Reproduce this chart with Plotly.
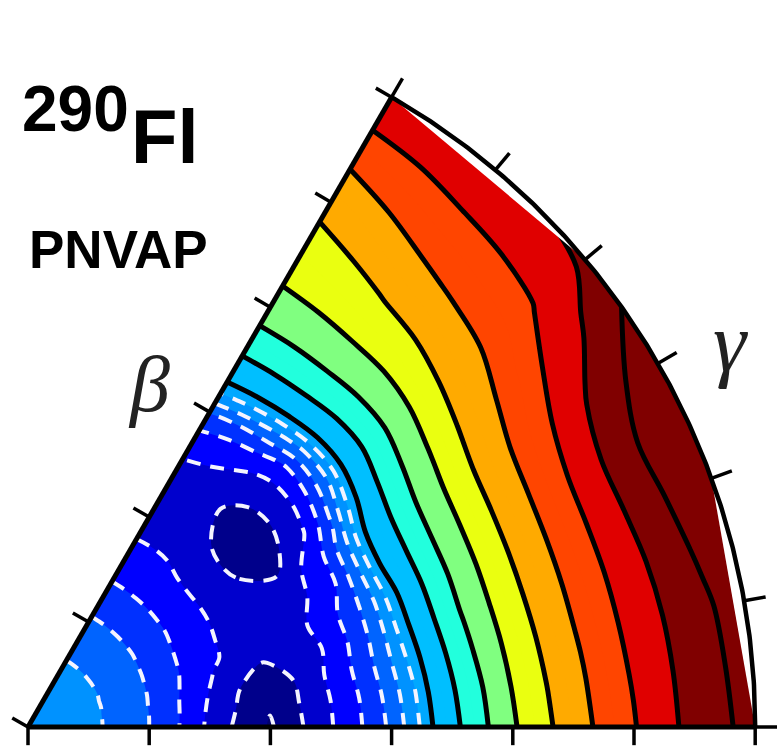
import numpy as np
import plotly.graph_objects as go

# Deformation mesh: beta (radial) and gamma in degrees (angular)
beta = [0.00, 0.04, 0.08, 0.12, 0.16, 0.20, 0.24, 0.28, 0.30, 0.32, 0.34,
        0.37, 0.40, 0.43, 0.46, 0.50, 0.54, 0.57, 0.60]
gamma = [0, 5, 10, 15, 20, 25, 30, 35, 40, 45, 50, 55, 60]

# PNVAP energies (MeV) on the mesh, one list per gamma value
E_g00 = [-0.75, -0.86, -1.12, -1.88, -2.86, -3.56, -2.74, -1.90, -1.38, -0.65, 0.25, 1.57, 2.88, 3.90, 4.82, 5.94, 7.09, 7.74, 8.40]
E_g05 = [-0.75, -0.86, -1.12, -1.87, -2.80, -3.45, -2.72, -1.86, -1.30, -0.55, 0.38, 1.71, 3.01, 4.03, 4.94, 6.06, 7.17, 7.83, 8.50]
E_g10 = [-0.75, -0.86, -1.12, -1.86, -2.69, -3.40, -2.68, -1.78, -1.19, -0.40, 0.52, 1.90, 3.14, 4.15, 5.05, 6.15, 7.24, 7.89, 8.60]
E_g15 = [-0.75, -0.86, -1.11, -1.83, -2.55, -3.03, -2.75, -1.81, -1.18, -0.25, 0.67, 2.04, 3.24, 4.24, 5.11, 6.21, 7.36, 8.11, 8.75]
E_g20 = [-0.75, -0.86, -1.11, -1.81, -2.42, -2.82, -2.60, -1.83, -1.19, -0.18, 0.73, 2.06, 3.27, 4.28, 5.14, 6.27, 7.55, 8.28, 8.85]
E_g25 = [-0.75, -0.86, -1.10, -1.79, -2.39, -2.82, -2.76, -2.00, -1.14, 0.00, 0.80, 2.09, 3.26, 4.27, 5.12, 6.25, 7.65, 8.36, 8.90]
E_g30 = [-0.75, -0.86, -1.10, -1.77, -2.35, -2.83, -2.92, -2.06, -1.24, -0.06, 0.74, 2.01, 3.17, 4.19, 5.01, 6.01, 7.25, 8.01, 8.60]
E_g35 = [-0.75, -0.86, -1.10, -1.74, -2.32, -2.88, -3.25, -2.46, -1.67, -0.56, 0.48, 1.74, 2.92, 3.93, 4.74, 5.60, 6.50, 7.26, 8.05]
E_g40 = [-0.75, -0.86, -1.10, -1.74, -2.31, -2.92, -3.34, -2.65, -1.98, -1.06, 0.17, 1.43, 2.63, 3.67, 4.44, 5.25, 5.92, 6.56, 7.20]
E_g45 = [-0.75, -0.86, -1.10, -1.74, -2.30, -2.87, -3.25, -2.62, -2.12, -1.12, 0.13, 1.42, 2.55, 3.44, 4.19, 5.09, 5.78, 6.34, 6.95]
E_g50 = [-0.75, -0.86, -1.10, -1.74, -2.30, -2.72, -2.90, -2.44, -1.85, -0.88, 0.29, 1.52, 2.58, 3.38, 4.04, 4.89, 5.67, 6.26, 6.85]
E_g55 = [-0.75, -0.86, -1.10, -1.74, -2.30, -2.70, -2.80, -2.24, -1.69, -0.61, 0.41, 1.56, 2.58, 3.29, 3.82, 4.60, 5.47, 6.13, 6.70]
E_g60 = [-0.75, -0.86, -1.10, -1.74, -2.30, -2.72, -2.75, -2.07, -1.45, -0.38, 0.48, 1.60, 2.57, 3.21, 3.64, 4.31, 5.20, 6.04, 6.60]
energy = [E_g00, E_g05, E_g10, E_g15, E_g20, E_g25, E_g30,
          E_g35, E_g40, E_g45, E_g50, E_g55, E_g60]

# Axis ticks
beta_ticks = [0.0, 0.1, 0.2, 0.3, 0.4, 0.5, 0.6]
gamma_ticks = [0, 10, 20, 30, 40, 50, 60]

# Contour levels
fill_start, fill_end, fill_step = -3.5, 8.0, 0.5
neg_start, neg_end, neg_step = -3.5, -0.5, 0.5
pos_start, pos_end, pos_step = 0.0, 8.0, 1.0

# Colour of each filled band, from below the lowest level upwards
band_colors = [
    "#00006e",  # < -3.5
    "#00008b", "#0000cd", "#0000ff", "#0030ff", "#0064ff", "#0092ff", "#00a8ff",
    "#00bfff", "#00bfff",   # 0..1
    "#22ffdd", "#22ffdd",   # 1..2
    "#80ff80", "#80ff80",   # 2..3
    "#eaff10", "#eaff10",   # 3..4
    "#ffaa00", "#ffaa00",   # 4..5
    "#ff4500", "#ff4500",   # 5..6
    "#e00000", "#e00000",   # 6..7
    "#800000", "#800000",   # 7..8
    "#800000",              # > 8
]
n = len(band_colors) - 1
colorscale = [[k / n, c] for k, c in enumerate(band_colors)]

B = np.array(beta)
G = np.radians(np.array(gamma, dtype=float))
X = np.outer(np.cos(G), B)
Y = np.outer(np.sin(G), B)

fig = go.Figure()

hidden_axis = dict(showgrid=False, showline=False, showticklabels="none",
                   startline=False, endline=False, minorgridcount=0,
                   gridwidth=0, linewidth=0)
fig.add_trace(go.Carpet(carpet="pes", a=beta, b=gamma, x=X.tolist(), y=Y.tolist(),
                        aaxis=hidden_axis, baxis=hidden_axis))

# Filled bands
fig.add_trace(go.Contourcarpet(
    carpet="pes", a=beta, b=gamma, z=energy, autocontour=False,
    contours=dict(start=fill_start, end=fill_end, size=fill_step,
                  coloring="fill", showlines=False),
    colorscale=colorscale, showscale=False,
    line=dict(width=0, smoothing=1.0)))

# Negative energies: white dashed contours
fig.add_trace(go.Contourcarpet(
    carpet="pes", a=beta, b=gamma, z=energy, autocontour=False,
    contours=dict(start=neg_start, end=neg_end, size=neg_step, coloring="none"),
    showscale=False,
    line=dict(color="#f4f4ff", width=4, dash="14px,10px", smoothing=1.0)))

# Positive energies: black solid contours
fig.add_trace(go.Contourcarpet(
    carpet="pes", a=beta, b=gamma, z=energy, autocontour=False,
    contours=dict(start=pos_start, end=pos_end, size=pos_step, coloring="none"),
    showscale=False,
    line=dict(color="black", width=5, smoothing=1.0)))

bmax = beta[-1]


def arc(g0, g1, r, num=80):
    t = np.radians(np.linspace(g0, g1, num))
    return r * np.cos(t), r * np.sin(t)


# White slivers between the mesh chords and the outer arc
for g0, g1 in [(40, 60), (0, 20)]:
    ax_, ay_ = arc(g0, g1, bmax + 0.002)
    cx = [bmax * np.cos(np.radians(g1)), bmax * np.cos(np.radians(g0))]
    cy = [bmax * np.sin(np.radians(g1)), bmax * np.sin(np.radians(g0))]
    fig.add_trace(go.Scatter(x=list(ax_) + cx, y=list(ay_) + cy, mode="lines",
                             fill="toself", fillcolor="white",
                             line=dict(width=0), hoverinfo="skip"))

frame = dict(color="black", width=5)
tick_len = 0.015
c60, s60 = np.cos(np.radians(60)), np.sin(np.radians(60))

# Frame: gamma = 0 axis, gamma = 60 axis and the outer arc
fig.add_trace(go.Scatter(x=[0, bmax], y=[0, 0], mode="lines", line=frame))
fig.add_trace(go.Scatter(x=[0, bmax * c60], y=[0, bmax * s60], mode="lines", line=frame))
ax_, ay_ = arc(0, 60, bmax, 200)
fig.add_trace(go.Scatter(x=ax_, y=ay_, mode="lines", line=dict(color="black", width=4.5)))

tx, ty = [], []
for b in beta_ticks:
    tx += [b, b, None]
    ty += [0, -tick_len, None]
    px, py = b * c60, b * s60
    tx += [px, px - tick_len * s60, None]
    ty += [py, py + tick_len * c60, None]
for g in gamma_ticks:
    cg, sg = np.cos(np.radians(g)), np.sin(np.radians(g))
    tx += [bmax * cg, (bmax + tick_len * 1.2) * cg, None]
    ty += [bmax * sg, (bmax + tick_len * 1.2) * sg, None]
fig.add_trace(go.Scatter(x=tx, y=ty, mode="lines", line=dict(color="black", width=3.5)))

W, H = 777, 752
scale = 1212.0
x0, y0 = 28, 727


def paper(px, py):
    return px / W, 1 - py / H


bold = dict(family="Liberation Sans, Arial, sans-serif", color="black")
serif = dict(family="Liberation Serif, Times New Roman, serif", color="#222222")
labels = [
    ("<b>290</b>", 75, 109, 64, bold),
    ("<b>Fl</b>", 165, 137, 76, bold),
    ("<b>PNVAP</b>", 118, 250, 53, bold),
    ("<i>β</i>", 149, 384, 80, serif),
    ("<i>γ</i>", 730, 343, 84, serif),
]
for text, px, py, size, fnt in labels:
    xp, yp = paper(px, py)
    fig.add_annotation(text=text, x=xp, y=yp, xref="paper", yref="paper",
                       xanchor="center", yanchor="middle", showarrow=False,
                       font=dict(size=size, **fnt))

fig.update_layout(
    width=W, height=H, margin=dict(l=0, r=0, t=0, b=0),
    paper_bgcolor="white", plot_bgcolor="white", showlegend=False,
    xaxis=dict(range=[-x0 / scale, (W - x0) / scale], visible=False, fixedrange=True),
    yaxis=dict(range=[-(H - y0) / scale, y0 / scale], visible=False, fixedrange=True),
)

fig.write_html("out.html")
